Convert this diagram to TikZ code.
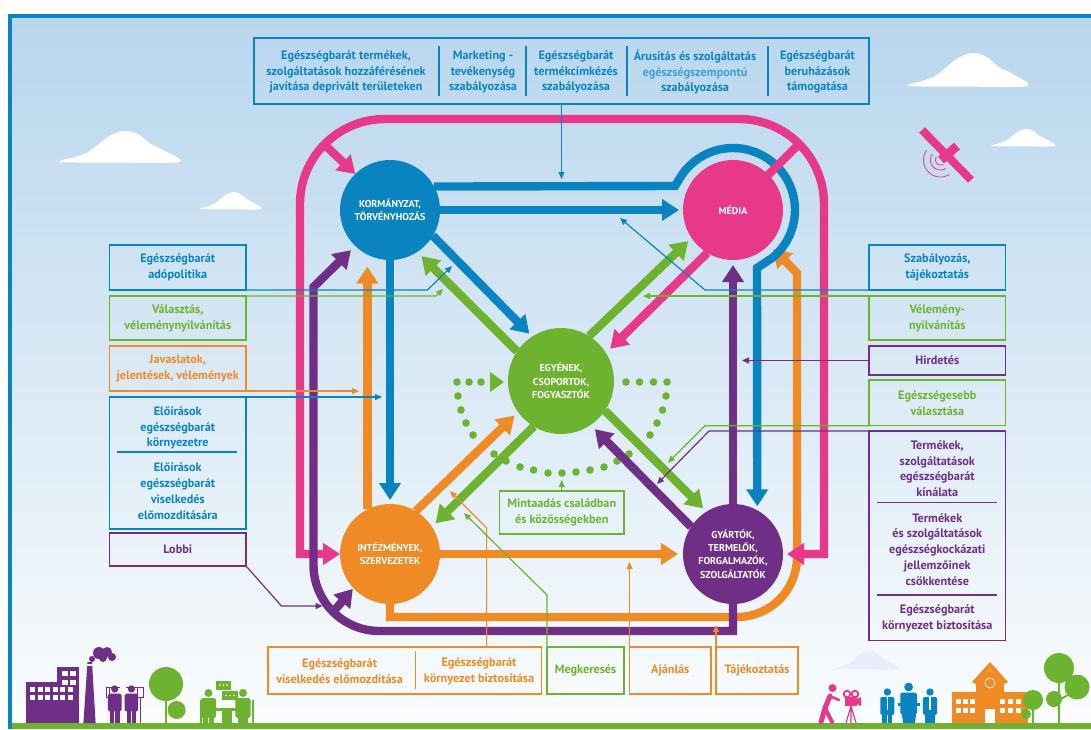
\documentclass[tikz,border=0pt]{standalone}
\usepackage{fontspec}
\setmainfont{PT Sans}
\usetikzlibrary{arrows.meta}
\definecolor{myblue}{HTML}{0A84C1}
\definecolor{mylblue}{HTML}{3FA0D0}
\definecolor{mypink}{HTML}{E8388A}
\definecolor{mygreen}{HTML}{6EB32F}
\definecolor{myorange}{HTML}{F08A24}
\definecolor{mypurple}{HTML}{6F2F86}
\pgfdeclarelayer{sky}\pgfdeclarelayer{conn}\pgfsetlayers{sky,conn,main}
\tikzset{
 hub/.style={circle,minimum size=100pt,inner sep=0pt,outer sep=0pt,text=white,align=center,
   font=\bfseries\fontsize{10}{13.4}\selectfont},
 lbl/.style={inner sep=0pt,outer sep=0pt,align=center,font=\bfseries\fontsize{12.2}{15.7}\selectfont},
 bx/.style={lbl,draw,line width=1.3pt,rectangle},
 flow/.style={line width=8.4pt,-{Triangle[width=21pt,length=17pt]},line join=miter},
 plainflow/.style={line width=8.4pt},
 thinarrow/.style={line width=1.2pt,-{Triangle[width=6pt,length=7pt]}},
 sepline/.style={line width=1.4pt},
}
\newcommand\skycloud[5][white]{%
 \fill[#1,shift={(#2,#4)},xscale=#3,yscale=#5] plot[smooth cycle,tension=.55] coordinates
 {(0,0)(.1,-.14)(.22,-.3)(.31,-.55)(.42,-.86)(.54,-1)(.66,-.88)(.76,-.58)(.88,-.36)(1,0)(.5,.02)};}
\newcommand\persona[4]{% x, yhead, r, colour
 \fill[#4] (#1,#2) circle (#3pt);
 \fill[#4,rounded corners=1.5pt] ({#1-1.9*#3},{#2+1.3*#3}) rectangle ({#1+1.9*#3},{#2+6.2*#3});
 \fill[#4] ({#1-1.35*#3},{#2+5*#3}) rectangle ({#1-.12*#3},723);
 \fill[#4] ({#1+.12*#3},{#2+5*#3}) rectangle ({#1+1.35*#3},723);}
\begin{document}
\begin{tikzpicture}[x=1pt,y=-1pt]
\useasboundingbox (0,0) rectangle (1091,729);
% hubs
\node[hub,fill=myblue] (korm) at (390,210) {KORMÁNYZAT,\\TÖRVÉNYHOZÁS};
\node[hub,fill=mypink] (media) at (733,210) {MÉDIA};
\node[hub,fill=mygreen,minimum size=106pt] (eg) at (561,381) {EGYÉNEK,\\CSOPORTOK,\\FOGYASZTÓK};
\node[hub,fill=myorange] (int) at (390,554) {INTÉZMÉNYEK,\\SZERVEZETEK};
\node[hub,fill=mypurple] (gyar) at (733,554) {GYÁRTÓK,\\TERMELŐK,\\FORGALMAZÓK,\\SZOLGÁLTATÓK};
% sky
\begin{pgfonlayer}{sky}
\fill[white] (0,0) rectangle (1091,729);
\shade[top color={rgb,255:red,184;green,214;blue,237},bottom color={rgb,255:red,250;green,252;blue,253}] (12,18) rectangle (1091,723);
\fill[myblue] (8,14) rectangle (1091,18);
\fill[myblue] (8,14) rectangle (12,729);
\fill[mygreen] (12,723) rectangle (1091,729);
\skycloud{61}{118}{162}{31}
\skycloud{201}{60}{209}{17}
\skycloud{909}{118}{86}{33}
\skycloud{992}{63}{146}{17}
\skycloud[black!3!blue!8!white]{835}{63}{669}{18}
% satellite
\draw[mypink,line width=8pt] (922,130) -- (971,180);
\draw[mypink,line width=9pt] (941,160) -- (957,146);
\foreach \r in {5,10,17}
 \draw[mypink,line width=.8pt] plot[domain=58:215,samples=30,smooth] ({940.5+\r*cos(\x)},{160+\r*sin(\x)});
% factory
\fill[mypurple] (26,682) rectangle (79,723);
\fill[mypurple] (57,667) rectangle (79,682);
\foreach \x in {30,37.5,45,52.5,60,67.5} \foreach \y in {687,695}
 \fill[white] (\x,\y) rectangle +(5,5);
\foreach \x in {62,70} \foreach \y in {671,680} \fill[white] (\x,\y) rectangle +(5.5,5);
\fill[mypurple] (83.4,723) -- (95.6,723) -- (92,662) -- (87.5,662) -- cycle;
\fill[white] (87.3,664) rectangle (92.2,665.5);
\foreach \c/\r in {{(92,659)}/3,{(99,653)}/6,{(107,652)}/5,{(112,657)}/4,{(103,658)}/4}
 \fill[mypurple] \c circle (\r pt);
% two people
\persona{114.7}{689}{3.6}{mypurple}
\persona{131.4}{689}{3.6}{mypurple}
\fill[mypurple] (109,686.5) rectangle (120,687.5);
\fill[mypurple] (126,686.5) rectangle (137,687.5);
\draw[mypurple,line width=1pt] (137,687) rectangle (143,697);
\draw[mypurple,line width=1pt] (106.5,687) rectangle (109,697);
\draw[mypurple,line width=1pt] (140,697) -- (140,723);
% tree
\draw[mygreen,line width=2.5pt] (166,690) -- (166,723);
\fill[mygreen] (166,684) circle (17pt);
\fill[mygreen] (176.6,710) circle (9pt);
% meeting
\fill[mygreen] (215,708) rectangle (240,711);
\fill[mygreen] (222,711) rectangle (232,723);
\persona{208.5}{693}{4}{mygreen}
\persona{243}{693}{4}{mygreen}
\draw[mygreen,line width=1.4pt] (201,700) -- (201,723);
\draw[mygreen,line width=1.4pt] (253,700) -- (253,723);
\fill[mygreen] (215.5,681) rectangle (231,690);
\fill[mygreen] (222,691) rectangle (238,700);
\foreach \x in {220,223.5,227} \fill[white] (\x,685) circle (.8pt);
\foreach \x in {226,230,234} \fill[white] (\x,695.5) circle (.8pt);
% camera person
\fill[mypink] (832.5,688) circle (4pt);
\draw[mypink,line width=5pt,line cap=round] (830,696) -- (825,708) -- (821,722);
\draw[mypink,line width=4pt,line cap=round] (825,708) -- (832,722);
\draw[mypink,line width=2.5pt,line cap=round] (830,696) -- (839,700);
\draw[mypink,line width=1.8pt] (847,694) circle (3.3pt) (855,694) circle (3.3pt);
\fill[mypink] (845,697) rectangle (857,706);
\fill[mypink] (857,699) -- (861,697) -- (861,706) -- (857,704) -- cycle;
\draw[mypink,line width=1.2pt] (851,706) -- (846,723) (851,706) -- (851,723) (851,706) -- (856,723);
% speakers
\persona{887.4}{692}{3.7}{myblue}
\persona{930}{692}{3.7}{myblue}
\persona{908.6}{687}{4.4}{myblue}
\fill[white] (886.7,697) rectangle (888.1,710);
\fill[white] (929.3,697) rectangle (930.7,710);
\fill[myblue] (898,703) rectangle (920,706);
\fill[myblue] (901,706) -- (917,706) -- (915,723) -- (903,723) -- cycle;
% school
\fill[myorange] (952,692) rectangle (1028,723);
\fill[myorange] (976,678) rectangle (1004,723);
\fill[myorange] (972,682) -- (990,662) -- (1008,682) -- (1004,684) -- (990,669) -- (976,684) -- cycle;
\fill[myorange] (990,670) -- (1002,680) -- (978,680) -- cycle;
\draw[white,line width=.7pt] (990,683) circle (5pt);
\foreach \x in {956,963,970,1000,1008,1016} \foreach \y in {699,708}
 \fill[white] (\x,\y) rectangle +(5,5);
\fill[white] (985,709) rectangle (995,723);
% trees right
\draw[mygreen,line width=2pt] (1059,675) -- (1059,723) (1033,705) -- (1033,723) (1059,700) -- (1077,690);
\fill[mygreen] (1059,668) circle (15pt);
\fill[mygreen] (1077,687) circle (12.5pt);
\fill[mygreen] (1054,699) circle (8pt);
\fill[mygreen] (1033,700) circle (10pt);
\fill[mygreen] (1026,714) circle (5pt);
\end{pgfonlayer}
% thick connectors
\coordinate (pinkK) at (325,145);
\coordinate (pinkM) at (799,144);
\coordinate (purpI) at (334,611);
\begin{pgfonlayer}{conn}
\foreach \p in {(457,382),(469,382),(481,382),(458,396),(461,410),(466,423),(473,435),(494,454),(506,461),(520,467),(533.5,470),(548,473),(562,473),(576,472),(590,470),(604,467),(617,461),(629,454),(650,435),(657,423),(662.5,410),(666,396),(667,382),(653.5,382),(639.5,382),(626,382)}
 \fill[mygreen] \p circle (3.8pt);
\fill[mygreen] (490,372) -- (504,382) -- (490,392) -- cycle;
% orange
\draw[flow,myorange,shorten >=6pt] (int.south) -- (390,617) [rounded corners=60pt] -- (797,617) [sharp corners] -- (797,273) -- (media.-44);
\draw[flow,myorange,shorten >=12pt] (int.117) -- (korm.-117);
\draw[flow,myorange,shorten >=5pt] (int) -- (gyar);
\draw[flow,myorange,shorten >=5pt] (int.59.6) -- (eg.216);
% pink
\draw[line width=8.4pt,mypink,{Triangle[width=21pt,length=17pt]}-{Triangle[width=21pt,length=17pt]},shorten >=4pt] (int.west) -- (300,554) [rounded corners=85pt] -- (300,119) -- (824,119) [sharp corners] -- (824,554) -- (gyar.east);
% blue
\draw[flow,myblue,shorten >=4pt] (korm.28) -- (675,186)
  -- plot[domain=152:-50,samples=50] ({733+62*cos(\x)},{210-62*sin(\x)}) -- (757,268) -- (gyar.61);
\draw[flow,myblue,shorten >=4pt] (korm) -- (media);
\draw[flow,myblue,shorten >=4pt] (korm.-31.5) -- (eg.123);
\draw[flow,myblue,shorten >=4pt] (korm) -- (int);
% pink branches
\draw[flow,mypink] (pinkK) -- (korm.134);
\draw[plainflow,mypink] (pinkM) -- (media.center);
\draw[flow,mypink,shorten >=6pt] (media.-121) -- (eg.32);
% green
\draw[flow,mygreen,shorten >=6pt] (eg.146) -- (korm.-57);
\draw[flow,mygreen,shorten >=4.5pt] (eg.58.5) -- (media.-146.6);
\draw[flow,mygreen,shorten >=5pt] (eg.-121.7) -- (int.33);
\draw[flow,mygreen,shorten >=4.6pt] (eg.-34.5) -- (gyar.122);
% purple
\draw[flow,mypurple,shorten >=6pt] (gyar.south) -- (733,631) [rounded corners=66pt] -- (313.5,631) [sharp corners] -- (313.5,287) -- (korm.226);
\draw[flow,mypurple,shorten >=1pt] (purpI) -- (int.223);
\draw[flow,mypurple,shorten >=5pt] (gyar) -- (media);
\draw[flow,mypurple,shorten >=6pt] (gyar.147) -- (eg.-56);
\end{pgfonlayer}
% top box
\node[bx,draw=myblue,minimum width=615pt,minimum height=66pt] (top) at (561.5,71) {};
\foreach \x in {439,526,627,768} \draw[myblue,sepline] (\x,46) -- (\x,96);
\node[lbl,text=myblue] at (346,72) {Egészségbarát termékek,\\szolgáltatások hozzáférésének\\javítása deprivált területeken};
\node[lbl,text=myblue] at (483,72) {Marketing -\\tevékenység\\szabályozása};
\node[lbl,text=myblue] at (576,72) {Egészségbarát\\termékcímkézés\\szabályozása};
\node[lbl,text=myblue] at (695,72) {Árusítás és szolgáltatás\\\textcolor{mylblue}{egészségszempontú}\\szabályozása};
\node[lbl,text=myblue] at (817.5,72) {Egészségbarát\\beruházások\\támogatása};
% left boxes
\node[bx,draw=myblue,text=myblue,minimum width=136.5pt,minimum height=45pt] (bA) at (177.75,267.5) {Egészségbarát\\adópolitika};
\node[bx,draw=mygreen,text=mygreen,minimum width=136.5pt,minimum height=44pt] (bV) at (177.75,318) {Választás,\\véleménynyilvánítás};
\node[bx,draw=myorange,text=myorange,minimum width=136.5pt,minimum height=45pt] (bJ) at (177.75,368.5) {Javaslatok,\\jelentések, vélemények};
\node[bx,draw=myblue,minimum width=136.5pt,minimum height=132pt] (bE) at (177.75,463) {};
\draw[myblue,sepline] (117,452) -- (237,452);
\node[lbl,text=myblue] at (177.75,428) {Előírások\\egészségbarát\\környezetre};
\node[lbl,text=myblue] at (177.75,491.2) {Előírások\\egészségbarát\\viselkedés\\előmozdítására};
\node[bx,draw=mypurple,text=mypurple,minimum width=136.5pt,minimum height=33pt] (bL) at (177.75,549.5) {Lobbi};
% right boxes
\node[bx,draw=myblue,text=myblue,minimum width=136.5pt,minimum height=45pt] (rS) at (937.3,267.5) {Szabályozás,\\tájékoztatás};
\node[bx,draw=mygreen,text=mygreen,minimum width=136.5pt,minimum height=44pt] (rV) at (937.3,318) {Vélemény-\\nyilvánítás};
\node[bx,draw=mypurple,text=mypurple,minimum width=136.5pt,minimum height=29pt] (rH) at (937.3,360.5) {Hirdetés};
\node[bx,draw=mygreen,text=mygreen,minimum width=136.5pt,minimum height=45.7pt] (rE) at (937.3,402.85) {Egészségesebb\\választása};
\node[bx,draw=mypurple,minimum width=136.5pt,minimum height=209.7pt] (rT) at (937.3,535.85) {};
\draw[mypurple,sepline] (877,502.7) -- (997,502.7);
\draw[mypurple,sepline] (877,595) -- (997,595);
\node[lbl,text=mypurple] at (937.3,468.6) {Termékek,\\szolgáltatások\\egészségbarát\\kínálata};
\node[lbl,text=mypurple] at (937.3,549.3) {Termékek\\és szolgáltatások\\egészségkockázati\\jellemzőinek\\csökkentése};
\node[lbl,text=mypurple] at (937.3,618.4) {Egészségbarát\\környezet biztosítása};
% bottom boxes
\node[bx,draw=myorange,minimum width=273.5pt,minimum height=47pt] (bD) at (404.75,670.5) {};
\draw[myorange,sepline] (415.7,650.7) -- (415.7,689);
\node[lbl,text=myorange] at (339.6,671) {Egészségbarát\\viselkedés előmozdítása};
\node[lbl,text=myorange] at (479,671) {Egészségbarát\\környezet biztosítása};
\node[bx,draw=mygreen,text=mygreen,minimum width=77pt,minimum height=47pt] (bM) at (585.5,670.5) {Megkeresés};
\node[bx,draw=myorange,text=myorange,minimum width=81.5pt,minimum height=47pt] (bAj) at (670.25,670.5) {Ajánlás};
\node[bx,draw=myorange,text=myorange,minimum width=82pt,minimum height=47pt] (bT) at (757,670.5) {Tájékoztatás};
\node[bx,draw=mygreen,text=mygreen,minimum width=124.5pt,minimum height=43pt] (bMi) at (561.75,512.5) {Mintaadás családban\\és közösségekben};
% thin connectors
\coordinate (tTop) at (561.5,179);
\coordinate (tA) at (452,266);
\coordinate (tV) at (443,289);
\coordinate (tJ) at (359,391);
\coordinate (tE) at (382,397);
\coordinate (tL) at (322.6,606);
\coordinate (tRS) at (620,218);
\coordinate (tRV) at (643,296);
\coordinate (tRH) at (742,360.5);
\coordinate (tRE) at (668,462.7);
\coordinate (tRT) at (657,484);
\coordinate (tK) at (450,491);
\coordinate (tMk) at (464,513);
\coordinate (tAj) at (629.5,562);
\coordinate (tT) at (716,625);
\coordinate (tMi) at (561.75,480);
\draw[thinarrow,myblue] (top.south) -- (tTop);
\draw[thinarrow,myblue] (bA.south east) -- (427.5,290) -- (tA);
\draw[thinarrow,mygreen] (bV.north east) -- (436,296) -- (tV);
\draw[thinarrow,myorange] (bJ.south east) -- (tJ);
\draw[thinarrow,myblue] (bE.north east) -- (tE);
\draw[thinarrow,mypurple] (bL.south east) -- (281.5,606) -- (tL);
\draw[thinarrow,myblue] (rS.south west) -- (705,290) -- (tRS);
\draw[thinarrow,mygreen] (rV.north west) -- (tRV);
\draw[thinarrow,mypurple] (rH.west) -- (tRH);
\draw[thinarrow,mygreen] (rE.south west) -- (705,425.7) -- (tRE);
\draw[thinarrow,mypurple] (rT.north west) -- (709,431) -- (tRT);
\draw[thinarrow,myorange] ([xshift=218.6pt]bD.north west) -- (486.6,528) -- (tK);
\draw[thinarrow,mygreen] (bM.north west) -- (547,595) -- (tMk);
\draw[thinarrow,myorange] (bAj.north west) -- (tAj);
\draw[thinarrow,myorange] (bT.north west) -- (tT);
\draw[thinarrow,mygreen] (bMi.north) -- (tMi);
\end{tikzpicture}
\end{document}
